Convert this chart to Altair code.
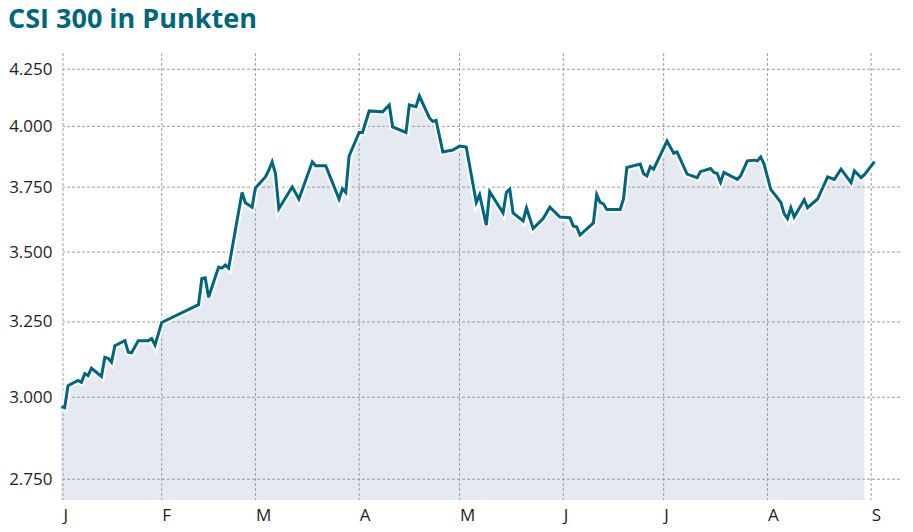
import altair as alt
import pandas as pd

# CSI 300 closing values
dates = [
    "2019-01-02", "2019-01-03", "2019-01-04", "2019-01-07", "2019-01-08", "2019-01-09",
    "2019-01-10", "2019-01-11", "2019-01-14", "2019-01-15", "2019-01-16", "2019-01-17",
    "2019-01-18", "2019-01-21", "2019-01-22", "2019-01-23", "2019-01-25", "2019-01-28",
    "2019-01-29", "2019-01-30", "2019-02-01", "2019-02-12", "2019-02-13", "2019-02-14",
    "2019-02-15", "2019-02-18", "2019-02-19", "2019-02-20", "2019-02-21", "2019-02-25",
    "2019-02-26", "2019-02-28", "2019-03-01", "2019-03-04", "2019-03-05", "2019-03-06",
    "2019-03-07", "2019-03-08", "2019-03-12", "2019-03-14", "2019-03-18", "2019-03-19",
    "2019-03-22", "2019-03-26", "2019-03-27", "2019-03-28", "2019-03-29", "2019-04-01",
    "2019-04-02", "2019-04-04", "2019-04-08", "2019-04-10", "2019-04-11", "2019-04-15",
    "2019-04-16", "2019-04-18", "2019-04-19", "2019-04-22", "2019-04-23", "2019-04-24",
    "2019-04-26", "2019-04-29", "2019-05-01", "2019-05-03", "2019-05-06", "2019-05-07",
    "2019-05-09", "2019-05-10", "2019-05-14", "2019-05-15", "2019-05-16", "2019-05-17",
    "2019-05-20", "2019-05-21", "2019-05-23", "2019-05-26", "2019-05-28", "2019-05-31",
    "2019-06-03", "2019-06-04", "2019-06-05", "2019-06-06", "2019-06-10", "2019-06-11",
    "2019-06-12", "2019-06-13", "2019-06-14", "2019-06-18", "2019-06-19", "2019-06-20",
    "2019-06-24", "2019-06-25", "2019-06-26", "2019-06-27", "2019-06-28", "2019-07-02",
    "2019-07-04", "2019-07-05", "2019-07-08", "2019-07-11", "2019-07-12", "2019-07-15",
    "2019-07-16", "2019-07-17", "2019-07-18", "2019-07-19", "2019-07-23", "2019-07-24",
    "2019-07-26", "2019-07-28", "2019-07-29", "2019-07-30", "2019-07-31", "2019-08-02",
    "2019-08-05", "2019-08-06", "2019-08-07", "2019-08-08", "2019-08-09", "2019-08-12",
    "2019-08-13", "2019-08-16", "2019-08-19", "2019-08-21", "2019-08-23", "2019-08-26",
    "2019-08-27", "2019-08-29", "2019-08-30", "2019-09-02",
]
values = [
    2970, 2967, 3037, 3054, 3048, 3076,
    3070, 3094, 3067, 3130, 3127, 3114,
    3169, 3186, 3147, 3145, 3186, 3186,
    3193, 3171, 3248, 3310, 3403, 3406,
    3336, 3445, 3441, 3452, 3441, 3729,
    3688, 3671, 3747, 3791, 3818, 3852,
    3804, 3665, 3751, 3703, 3852, 3836,
    3836, 3703, 3744, 3729, 3876, 3974,
    3974, 4066, 4062, 4092, 3998, 3974,
    4092, 4084, 4131, 4036, 4021, 4025,
    3893, 3901, 3917, 3913, 3690, 3720,
    3602, 3732, 3649, 3729, 3742, 3649,
    3618, 3668, 3589, 3627, 3671, 3633,
    3630, 3598, 3595, 3564, 3610, 3720,
    3690, 3684, 3662, 3662, 3703, 3829,
    3843, 3804, 3795, 3832, 3822, 3938,
    3887, 3893, 3802, 3788, 3812, 3825,
    3809, 3805, 3770, 3809, 3781, 3795,
    3856, 3859, 3856, 3872, 3843, 3741,
    3690, 3646, 3627, 3669, 3633, 3700,
    3669, 3703, 3791, 3781, 3822, 3768,
    3815, 3788, 3800, 3853,
]
area_end = "2019-08-30"

title_text = ["CSI 300 in Punkten"]
month_ticks = [
    "2019-01-02T12:00:00Z", "2019-02-01T00:00:00Z", "2019-03-01T00:00:00Z",
    "2019-04-01T00:00:00Z", "2019-05-01T00:00:00Z", "2019-06-01T00:00:00Z",
    "2019-07-01T00:00:00Z", "2019-08-01T00:00:00Z", "2019-09-01T00:00:00Z",
]
y_ticks = [2750, 3000, 3250, 3500, 3750, 4000, 4250]
y_domain = [2690, 4324]

TEAL = "#006680"
FILL = "#e4e9f2"
GRID = "#9c9c9c"
FONT = "Open Sans"

W, H = 837, 447

df = pd.DataFrame({"date": dates, "value": values})
df_area = df[df["date"] <= area_end]
df_mt = pd.DataFrame({"t": month_ticks})
df_yt = pd.DataFrame({"v": y_ticks})
df_title = pd.DataFrame({"title": title_text})


def dt(s):
    d, t = s.rstrip("Z").split("T")
    yy, mm, dd = (int(p) for p in d.split("-"))
    hh = int(t.split(":")[0])
    return alt.DateTime(year=yy, month=mm, date=dd, hours=hh, utc=True)


x_scale = alt.Scale(
    type="utc",
    domain=[alt.DateTime(year=2019, month=1, date=2, hours=12, utc=True),
            alt.DateTime(year=2019, month=9, date=9, hours=15, utc=True)],
)
y_scale = alt.Scale(type="log", domain=y_domain, nice=False, zero=False)

x_axis = alt.Axis(
    values=[dt(s) for s in month_ticks],
    labelExpr="substring(utcFormat(datum.value, '%b'), 0, 1)",
    grid=False, domain=False, ticks=False, title=None,
    labelAlign="left", labelBaseline="top", labelPadding=7,
    labelFont=FONT, labelFontSize=17, labelColor="#1e1e1e", labelFlush=False,
)
y_axis = alt.Axis(
    values=y_ticks,
    labelExpr="replace(format(datum.value, ','), ',', '.')",
    grid=False, domain=False, ticks=False, title=None,
    labelPadding=11, labelFont=FONT, labelFontSize=17, labelColor="#1e1e1e",
)

X = alt.X("date:T", scale=x_scale, axis=x_axis)
Y = alt.Y("value:Q", scale=y_scale, axis=y_axis, stack=None)

area = alt.Chart(df_area).mark_area(color=FILL).encode(
    x=X, y=Y, y2=alt.value(H),
)

hgrid = alt.Chart(df_yt).mark_rule(color=GRID, strokeDash=[3, 2], strokeWidth=1).encode(
    y=alt.Y("v:Q", scale=y_scale, axis=y_axis)
)
vgrid = alt.Chart(df_mt).mark_rule(color=GRID, strokeDash=[3, 2], strokeWidth=1).encode(
    x=alt.X("t:T", scale=x_scale, axis=x_axis)
)

halo = alt.Chart(df).mark_line(color="white", strokeWidth=7).encode(x=X, y=Y)
line = alt.Chart(df).mark_line(color=TEAL, strokeWidth=3).encode(x=X, y=Y)

title = alt.Chart(df_title).mark_text(
    align="left", baseline="alphabetic", font=FONT, fontSize=27,
    fontWeight="bold", color=TEAL,
).encode(text="title:N", x=alt.value(-55), y=alt.value(-25))

chart = alt.layer(area, hgrid, vgrid, halo, line, title).properties(
    width=W,
    height=H,
    autosize=alt.AutoSizeParams(type="none"),
    padding={"left": 55, "top": 45, "right": 4, "bottom": 24},
).configure_view(stroke=None)

chart.save("out.html", embed_options={"renderer": "svg", "actions": False})
